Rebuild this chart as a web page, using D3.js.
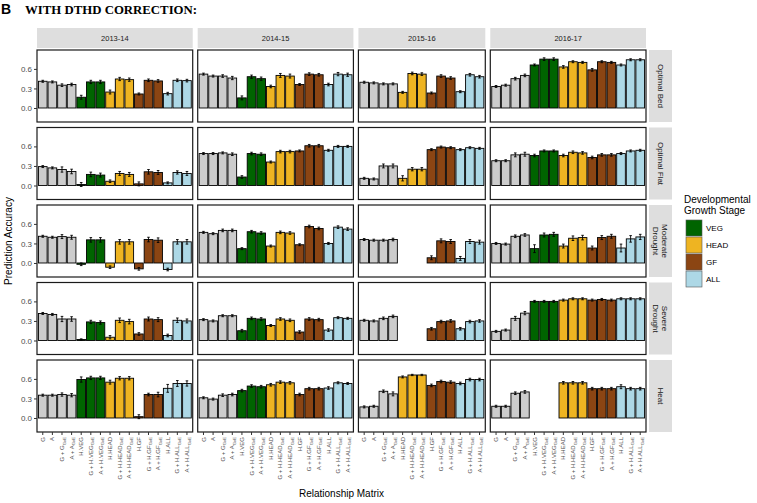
<!DOCTYPE html>
<html><head><meta charset="utf-8">
<script src="https://cdn.jsdelivr.net/npm/d3@7"></script>
<style>body{margin:0;background:#fff;} text{font-family:"Liberation Sans",Arial,sans-serif;}</style>
</head><body><svg id="chart" width="757" height="503"></svg>
<script>
// ---------- data ----------
const years = ["2013-14", "2014-15", "2015-16", "2016-17"];
const environments = ["Optimal Bed", "Optimal Flat", "Moderate Drought", "Severe Drought", "Heat"];
const envStripLines = [["Optimal Bed"], ["Optimal Flat"], ["Moderate", "Drought"], ["Severe", "Drought"], ["Heat"]];
const matricesFull = ["G", "A", "G + G_GxE", "A + A_GxE",
  "H.VEG", "G + H.VEG_GxE", "A + H.VEG_GxE",
  "H.HEAD", "G + H.HEAD_GxE", "A + H.HEAD_GxE",
  "H.GF", "G + H.GF_GxE", "A + H.GF_GxE",
  "H.ALL", "G + H.ALL_GxE", "A + H.ALL_GxE"];
const matricesNoVeg = ["G", "A", "G + G_GxE", "A + A_GxE",
  "H.HEAD", "G + H.HEAD_GxE", "A + H.HEAD_GxE",
  "H.GF", "G + H.GF_GxE", "A + H.GF_GxE",
  "H.ALL", "G + H.ALL_GxE", "A + H.ALL_GxE"];
const stages = ["VEG", "HEAD", "GF", "ALL"];
const yTicks = [0, 0.3, 0.6];

// mean prediction accuracy, one array per year (2015-16 has no VEG matrices)
const optimalBed = [
  [0.41, 0.40, 0.35, 0.36, 0.165, 0.40, 0.40, 0.245, 0.445, 0.435, 0.215, 0.425, 0.415, 0.22, 0.425, 0.42],
  [0.52, 0.49, 0.49, 0.46, 0.155, 0.48, 0.45, 0.33, 0.50, 0.49, 0.36, 0.52, 0.51, 0.36, 0.52, 0.51],
  [0.395, 0.385, 0.37, 0.37, 0.24, 0.53, 0.52, 0.23, 0.49, 0.46, 0.25, 0.51, 0.48],
  [0.33, 0.35, 0.45, 0.50, 0.66, 0.75, 0.75, 0.63, 0.71, 0.70, 0.585, 0.71, 0.70, 0.66, 0.74, 0.74]
];
const optimalFlat = [
  [0.29, 0.27, 0.245, 0.215, 0.015, 0.17, 0.16, 0.065, 0.185, 0.17, 0.025, 0.21, 0.20, 0.04, 0.20, 0.185],
  [0.49, 0.49, 0.50, 0.48, 0.13, 0.49, 0.48, 0.36, 0.52, 0.52, 0.53, 0.61, 0.61, 0.54, 0.60, 0.60],
  [0.11, 0.10, 0.30, 0.30, 0.11, 0.25, 0.25, 0.55, 0.59, 0.58, 0.55, 0.58, 0.57],
  [0.38, 0.38, 0.47, 0.48, 0.46, 0.53, 0.53, 0.46, 0.51, 0.50, 0.43, 0.47, 0.47, 0.49, 0.53, 0.54]
];
const moderateDrought = [
  [0.41, 0.395, 0.405, 0.395, -0.02, 0.355, 0.355, -0.065, 0.325, 0.325, -0.09, 0.36, 0.35, -0.10, 0.325, 0.325],
  [0.47, 0.45, 0.50, 0.50, 0.22, 0.48, 0.46, 0.26, 0.47, 0.46, 0.28, 0.56, 0.53, 0.30, 0.55, 0.52],
  [0.36, 0.35, 0.35, 0.36, null, null, null, 0.08, 0.34, 0.33, 0.07, 0.33, 0.32],
  [0.30, 0.29, 0.41, 0.43, 0.22, 0.43, 0.44, 0.26, 0.38, 0.39, 0.23, 0.39, 0.41, 0.23, 0.37, 0.40]
];
const severeDrought = [
  [0.415, 0.40, 0.33, 0.33, 0.015, 0.285, 0.275, 0.05, 0.31, 0.29, 0.10, 0.33, 0.32, 0.077, 0.31, 0.30],
  [0.32, 0.30, 0.38, 0.38, 0.15, 0.34, 0.33, 0.23, 0.33, 0.31, 0.13, 0.33, 0.32, 0.16, 0.35, 0.34],
  [0.31, 0.30, 0.34, 0.37, null, null, null, 0.18, 0.29, 0.30, 0.18, 0.29, 0.30],
  [0.14, 0.16, 0.34, 0.42, 0.60, 0.60, 0.60, 0.62, 0.64, 0.64, 0.62, 0.63, 0.62, 0.64, 0.64, 0.64]
];
const heat = [
  [0.35, 0.35, 0.36, 0.35, 0.59, 0.615, 0.615, 0.55, 0.61, 0.61, 0.02, 0.36, 0.36, 0.455, 0.53, 0.53],
  [0.31, 0.29, 0.35, 0.36, 0.42, 0.49, 0.48, 0.51, 0.55, 0.54, 0.36, 0.45, 0.45, 0.46, 0.54, 0.53],
  [0.17, 0.18, 0.41, 0.37, 0.63, 0.66, 0.66, 0.50, 0.56, 0.55, 0.53, 0.59, 0.59],
  [0.18, 0.18, 0.38, 0.40, null, null, null, 0.54, 0.54, 0.54, 0.45, 0.45, 0.45, 0.48, 0.45, 0.45]
];
// standard errors (half-length of error bars)
const optimalBedErr = [
  [0.015, 0.015, 0.02, 0.02, 0.03, 0.025, 0.025, 0.03, 0.025, 0.025, 0.015, 0.02, 0.02, 0.02, 0.02, 0.02],
  [0.015, 0.015, 0.02, 0.025, 0.03, 0.025, 0.025, 0.02, 0.03, 0.03, 0.015, 0.02, 0.02, 0.02, 0.025, 0.025],
  [0.015, 0.015, 0.015, 0.015, 0.015, 0.02, 0.02, 0.015, 0.02, 0.02, 0.015, 0.02, 0.02],
  [0.015, 0.015, 0.02, 0.02, 0.015, 0.02, 0.02, 0.02, 0.015, 0.015, 0.02, 0.015, 0.015, 0.015, 0.015, 0.015]
];
const optimalFlatErr = [
  [0.015, 0.015, 0.04, 0.035, 0.03, 0.035, 0.03, 0.02, 0.03, 0.03, 0.03, 0.035, 0.03, 0.015, 0.025, 0.03],
  [0.015, 0.015, 0.015, 0.02, 0.02, 0.02, 0.02, 0.015, 0.02, 0.02, 0.015, 0.02, 0.02, 0.015, 0.015, 0.015],
  [0.015, 0.015, 0.03, 0.03, 0.04, 0.025, 0.025, 0.015, 0.015, 0.015, 0.015, 0.015, 0.015],
  [0.015, 0.015, 0.03, 0.03, 0.02, 0.015, 0.015, 0.02, 0.02, 0.02, 0.02, 0.02, 0.02, 0.015, 0.015, 0.015]
];
const moderateDroughtErr = [
  [0.015, 0.015, 0.03, 0.03, 0.02, 0.035, 0.035, 0.02, 0.035, 0.035, 0.02, 0.035, 0.035, 0.02, 0.035, 0.035],
  [0.015, 0.015, 0.02, 0.02, 0.015, 0.02, 0.02, 0.015, 0.02, 0.02, 0.015, 0.02, 0.02, 0.015, 0.02, 0.02],
  [0.015, 0.015, 0.015, 0.02, null, null, null, 0.03, 0.03, 0.03, 0.03, 0.03, 0.03],
  [0.015, 0.015, 0.02, 0.02, 0.06, 0.03, 0.03, 0.03, 0.035, 0.035, 0.03, 0.03, 0.03, 0.06, 0.05, 0.04]
];
const severeDroughtErr = [
  [0.015, 0.015, 0.04, 0.035, 0.01, 0.025, 0.025, 0.025, 0.035, 0.035, 0.02, 0.03, 0.03, 0.02, 0.035, 0.03],
  [0.015, 0.015, 0.015, 0.015, 0.02, 0.02, 0.02, 0.015, 0.02, 0.02, 0.02, 0.02, 0.02, 0.02, 0.015, 0.015],
  [0.015, 0.015, 0.02, 0.02, null, null, null, 0.02, 0.02, 0.02, 0.02, 0.02, 0.02],
  [0.015, 0.015, 0.03, 0.025, 0.015, 0.015, 0.015, 0.015, 0.015, 0.015, 0.015, 0.015, 0.015, 0.015, 0.015, 0.015]
];
const heatErr = [
  [0.015, 0.015, 0.025, 0.025, 0.04, 0.025, 0.025, 0.03, 0.025, 0.025, 0.03, 0.02, 0.035, 0.06, 0.045, 0.04],
  [0.015, 0.015, 0.02, 0.02, 0.02, 0.02, 0.02, 0.02, 0.02, 0.02, 0.02, 0.02, 0.02, 0.02, 0.015, 0.015],
  [0.015, 0.015, 0.02, 0.03, 0.015, 0.01, 0.01, 0.02, 0.02, 0.02, 0.02, 0.02, 0.02],
  [0.015, 0.015, 0.02, 0.02, null, null, null, 0.02, 0.02, 0.02, 0.02, 0.02, 0.02, 0.03, 0.02, 0.02]
];
const envValues = [optimalBed, optimalFlat, moderateDrought, severeDrought, heat];
const envErrors = [optimalBedErr, optimalFlatErr, moderateDroughtErr, severeDroughtErr, heatErr];

// ---------- styles ----------
const stageColors = { base: "#cccccc", VEG: "#006400", HEAD: "#EEB422", GF: "#8B4513", ALL: "#ADD8E6" };
function stageOf(m) {
  for (const s of stages) if (m.includes("H." + s)) return s;
  return "base";
}

// ---------- layout ----------
const svg = d3.select("#chart");
const left = 37, right = 646, gapX = 5;
const rowTop0 = 50, rowH = 72, gapY = 5.5;
const stripTop = 28, stripH = 20;
const yDomain = [-0.215, 0.89];

const catsPerYear = years.map(y => y === "2015-16" ? matricesNoVeg : matricesFull);
const totalUnits = d3.sum(catsPerYear, c => c.length + 0.2);
const unit = (right - left - gapX * (years.length - 1)) / totalUnits;
const xScales = [];
let cx = left;
catsPerYear.forEach(c => {
  const w = (c.length + 0.2) * unit;
  xScales.push(d3.scaleBand().domain(c).range([cx, cx + w]).paddingInner(0.1).paddingOuter(0.15));
  cx += w + gapX;
});

// title
svg.append("text").attr("x", 1).attr("y", 14).attr("font-size", 14).attr("font-weight", "bold").text("B");
svg.append("text").attr("x", 25).attr("y", 14).attr("font-size", 12.8).attr("font-weight", "bold")
  .style("font-family", "'Liberation Serif','Times New Roman',serif").text("WITH DTHD CORRECTION:");

// column strips
years.forEach((yr, j) => {
  const [x0, x1] = xScales[j].range();
  svg.append("rect").attr("x", x0).attr("y", stripTop).attr("width", x1 - x0).attr("height", stripH).attr("fill", "#dedede");
  svg.append("text").attr("x", (x0 + x1) / 2).attr("y", stripTop + stripH / 2).attr("dy", "0.35em")
    .attr("text-anchor", "middle").attr("font-size", 7.5).attr("fill", "#1a1a1a").text(yr);
});

environments.forEach((env, i) => {
  const top = rowTop0 + i * (rowH + gapY);
  const y = d3.scaleLinear().domain(yDomain).range([top + rowH, top]);

  // row strip
  const sx = right + 3, sw = 23;
  svg.append("rect").attr("x", sx).attr("y", top).attr("width", sw).attr("height", rowH).attr("fill", "#dedede");
  const lines = envStripLines[i];
  const st = svg.append("text").attr("transform", `translate(${sx + sw / 2},${top + rowH / 2}) rotate(90)`)
    .attr("text-anchor", "middle").attr("font-size", 8).attr("fill", "#1a1a1a");
  lines.forEach((ln, k) => {
    st.append("tspan").attr("x", 0).attr("y", (k - (lines.length - 1) / 2) * 9).attr("dy", "0.35em").text(ln);
  });

  years.forEach((yr, j) => {
    const x = xScales[j];
    const [x0, x1] = x.range();
    const g = svg.append("g");
    g.append("rect").attr("x", x0).attr("y", top).attr("width", x1 - x0).attr("height", rowH).attr("fill", "#fff");
    const vals = envValues[i][j], errs = envErrors[i][j];
    const data = x.domain().map((m, k) => ({ m, v: vals[k], e: errs[k] })).filter(d => d.v != null);
    g.selectAll("rect.bar").data(data).join("rect").attr("class", "bar")
      .attr("x", d => x(d.m)).attr("width", x.bandwidth())
      .attr("y", d => y(Math.max(0, d.v))).attr("height", d => Math.abs(y(d.v) - y(0)))
      .attr("fill", d => stageColors[stageOf(d.m)]).attr("stroke", "#000").attr("stroke-width", 0.9);
    const cw = x.bandwidth() * 0.15;
    const eb = g.selectAll("g.eb").data(data).join("g").attr("class", "eb")
      .attr("stroke", "#000").attr("stroke-width", 0.9);
    eb.append("line").attr("x1", d => x(d.m) + x.bandwidth() / 2).attr("x2", d => x(d.m) + x.bandwidth() / 2)
      .attr("y1", d => y(d.v - d.e)).attr("y2", d => y(d.v + d.e));
    eb.append("line").attr("x1", d => x(d.m) + x.bandwidth() / 2 - cw).attr("x2", d => x(d.m) + x.bandwidth() / 2 + cw)
      .attr("y1", d => y(d.v - d.e)).attr("y2", d => y(d.v - d.e));
    eb.append("line").attr("x1", d => x(d.m) + x.bandwidth() / 2 - cw).attr("x2", d => x(d.m) + x.bandwidth() / 2 + cw)
      .attr("y1", d => y(d.v + d.e)).attr("y2", d => y(d.v + d.e));
    g.append("rect").attr("x", x0).attr("y", top).attr("width", x1 - x0).attr("height", rowH)
      .attr("fill", "none").attr("stroke", "#1a1a1a").attr("stroke-width", 1.2);

    if (j === 0) {
      const ya = svg.append("g").attr("transform", `translate(${x0},0)`)
        .call(d3.axisLeft(y).tickValues(yTicks).tickFormat(d3.format(".1f")).tickSize(3).tickPadding(2));
      ya.select(".domain").remove();
      ya.selectAll(".tick line").attr("stroke", "#333");
      ya.selectAll(".tick text").attr("fill", "#4d4d4d").attr("font-size", 8).style("font-family", "'Liberation Sans',Arial,sans-serif");
    }
    if (i === environments.length - 1) {
      const xa = svg.append("g").attr("transform", `translate(0,${top + rowH})`)
        .call(d3.axisBottom(x).tickSize(3));
      xa.select(".domain").remove();
      xa.selectAll(".tick line").attr("stroke", "#333");
      xa.selectAll(".tick text").each(function (d) {
        const t = d3.select(this);
        t.text(null);
        const parts = d.split("_");
        t.append("tspan").text(parts[0]);
        if (parts[1]) t.append("tspan").attr("font-size", 4.3).attr("dy", 1.5).text(parts[1]);
      }).attr("transform", "rotate(-90)").attr("text-anchor", "end")
        .attr("x", -5).attr("y", 0).attr("dy", "0.35em")
        .attr("fill", "#4d4d4d").attr("font-size", 6).style("font-family", "'Liberation Sans',Arial,sans-serif");
    }
  });
});

// axis titles
svg.append("text").attr("transform", `translate(12,${rowTop0 + (5 * rowH + 4 * gapY) / 2}) rotate(-90)`)
  .attr("text-anchor", "middle").attr("font-size", 10).attr("fill", "#000").text("Prediction Accuracy");
svg.append("text").attr("x", (left + right) / 2).attr("y", 497).attr("text-anchor", "middle")
  .attr("font-size", 10).attr("fill", "#000").text("Relationship Matrix");

// legend
const lg = svg.append("g").attr("transform", "translate(684,0)");
lg.append("text").attr("x", 0).attr("y", 203).attr("font-size", 10).text("Developmental");
lg.append("text").attr("x", 0).attr("y", 214).attr("font-size", 10).text("Growth Stage");
stages.forEach((s, k) => {
  const yy = 220 + k * 17;
  lg.append("rect").attr("x", 2).attr("y", yy).attr("width", 16).attr("height", 16)
    .attr("fill", stageColors[s]).attr("stroke", "#555").attr("stroke-width", 0.6);
  lg.append("text").attr("x", 22).attr("y", yy + 8).attr("dy", "0.35em").attr("font-size", 8).text(s);
});
</script></body></html>
